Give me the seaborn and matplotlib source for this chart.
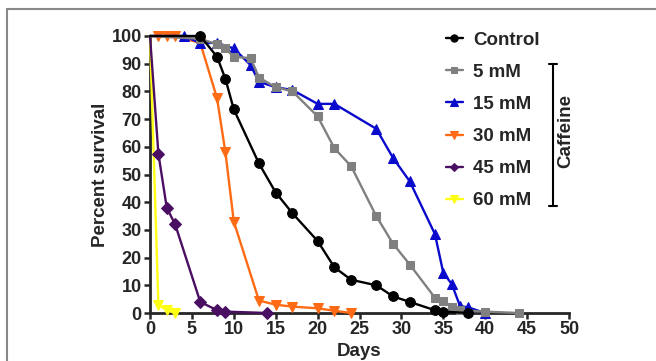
import matplotlib
matplotlib.use("Agg")
import matplotlib.pyplot as plt
import seaborn as sns
from matplotlib.lines import Line2D

# survival data
control_days = [0, 6, 8, 9, 10, 13, 15, 17, 20, 22, 24, 27, 29, 31, 34, 35, 38]
control_vals = [100, 100, 92.5, 84.5, 73.5, 54, 43.5, 36, 26, 16.5, 12, 10, 6, 4, 1, 0.5, 0]

mm5_days = [0, 6, 8, 9, 10, 12, 13, 15, 17, 20, 22, 24, 27, 29, 31, 34, 35, 36, 37, 40, 44]
mm5_vals = [100, 99, 97, 95.5, 92.5, 92, 85, 81.5, 80, 71, 59.5, 53, 35, 25, 17.5, 5.5, 4.5, 2, 1, 0.5, 0]

mm15_days = [0, 4, 6, 8, 10, 12, 13, 15, 17, 20, 22, 27, 29, 31, 34, 35, 36, 37, 38, 40]
mm15_vals = [100, 100, 97.5, 97.5, 95.5, 89.5, 83.5, 81.5, 80.5, 75.5, 75.5, 66.5, 56, 47.5, 28.5, 14.5, 10.5, 2.5, 2, 0]

mm30_days = [0, 1, 2, 3, 6, 8, 9, 10, 13, 15, 17, 20, 22, 24]
mm30_vals = [100, 100, 100, 100, 97.5, 77.5, 58, 33, 4.5, 3, 2.3, 1.7, 0.8, 0]

mm45_days = [0, 1, 2, 3, 6, 8, 9, 14]
mm45_vals = [100, 57.5, 38, 32, 4, 1, 0.5, 0]

mm60_days = [0, 1, 2, 3]
mm60_vals = [100, 3, 1, 0]

labels = ["Control", "5 mM", "15 mM", "30 mM", "45 mM", "60 mM"]
colors = ["black", "#808080", "#0A0ACD", "#FF6A14", "#4A0E62", "#FFFF14"]
markers = ["o", "s", "^", "v", "D", "v"]
msizes = [7, 5.5, 7.5, 7, 6, 7]

series = [(control_days, control_vals), (mm5_days, mm5_vals), (mm15_days, mm15_vals),
          (mm30_days, mm30_vals), (mm45_days, mm45_vals), (mm60_days, mm60_vals)]

sns.set_style("ticks")
plt.rcParams['font.family'] = ['Liberation Sans', 'DejaVu Sans']
plt.rcParams['font.weight'] = 'bold'

fig = plt.figure(figsize=(6.56, 3.61), dpi=100)
ax = fig.add_axes([150/656, 1-313/361, 419/656, 277/361])

for i in range(len(series)):
    d, v = series[i]
    # no marker on the day-0 starting point
    sns.lineplot(x=d, y=v, ax=ax, color=colors[i], marker=markers[i], markersize=msizes[i],
                 markeredgecolor=colors[i], linewidth=1.7, label=labels[i], clip_on=False,
                 markevery=list(range(1, len(d))), zorder=10 - i)

ax.set_xlim(0, 50)
ax.set_ylim(0, 100)
ax.set_xticks(range(0, 51, 5))
ax.set_yticks(range(0, 101, 10))
ax.tick_params(labelsize=13, width=1.8, length=4, direction="out", pad=2)
for lab in ax.get_xticklabels() + ax.get_yticklabels():
    lab.set_fontweight("bold")
sns.despine(ax=ax)
for s in ["left", "bottom"]:
    ax.spines[s].set_linewidth(2)
ax.set_xlabel("Days", fontsize=13.5, fontweight="bold", labelpad=3)
ax.set_ylabel("Percent survival", fontsize=13.5, fontweight="bold", labelpad=2)

ax.legend(loc="center left", bbox_to_anchor=(446/656, 1-120.5/361), bbox_transform=fig.transFigure,
          frameon=False, handlelength=0.9, handletextpad=0.55, labelspacing=0.8,
          borderpad=0, borderaxespad=0, markerscale=0.75, prop={"weight": "bold", "size": 13.5})

# caffeine bracket
bx = 553/656
fig.add_artist(Line2D([bx, bx], [1-64/361, 1-206/361], color="black", lw=1.5))
for yy in [64, 206]:
    fig.add_artist(Line2D([bx-4/656, bx+4/656], [1-yy/361, 1-yy/361], color="black", lw=1.5))
fig.text(566/656, 1-131/361, "Caffeine", rotation=90, ha="center", va="center",
         fontsize=13.5, fontweight="bold")

# outer frame of the cropped figure
fig.add_artist(Line2D([7/656, 1], [1-9/361, 1-9/361], color="#888888", lw=1.5))
fig.add_artist(Line2D([7/656, 7/656], [0, 1-9/361], color="#888888", lw=1.5))

fig.savefig("out.png", dpi=100)
